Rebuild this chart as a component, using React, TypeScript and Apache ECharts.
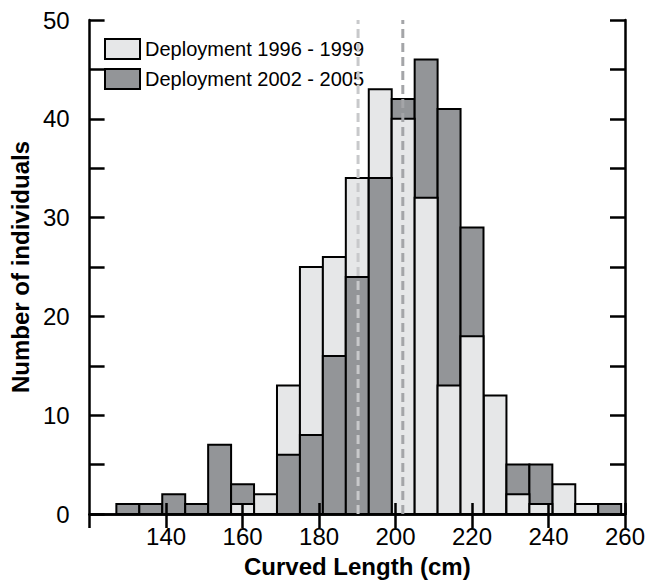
import React, { useEffect, useRef } from "react";
import * as echarts from "echarts";

// Histogram bins (cm): lower edges, width 6
const binStarts = [127, 133, 139, 145, 151, 157, 163, 169, 175, 181, 187, 193, 199, 205, 211, 217, 223, 229, 235, 241, 247, 253];
const binWidth = 6;
const light9699 = [0, 0, 0, 0, 0, 1, 2, 13, 25, 26, 34, 43, 40, 32, 13, 18, 12, 2, 1, 3, 1, 0];
const dark0205 = [1, 1, 2, 1, 7, 3, 0, 6, 8, 16, 24, 34, 42, 46, 41, 29, 0, 5, 5, 0, 0, 1];
const meanLengths = [190.2, 201.9];
const seriesNames = ["Deployment 1996 - 1999", "Deployment 2002 - 2005"];
const xTicks = { min: 120, max: 260, interval: 20 };
const yTicks = { min: 0, max: 50, interval: 10 };

const LIGHT = "#e6e7e8";
const DARK = "#939598";
const FONT = "'Liberation Sans', Arial, Helvetica, sans-serif";

function makeRender(color: string) {
  return (params: any, api: any) => {
    const s = api.value(0);
    const e = api.value(1);
    const v = api.value(2);
    const o = api.value(3);
    if (!v) return { type: "group", children: [] };
    const p0 = api.coord([s, v]);
    const p1 = api.coord([e, 0]);
    return {
      type: "rect",
      shape: { x: p0[0], y: p0[1], width: p1[0] - p0[0], height: p1[1] - p0[1] },
      style: { fill: color, stroke: "#000", lineWidth: 2 },
      z2: v > o ? 1 : 3,
    };
  };
}

export default function App() {
  const ref = useRef<HTMLDivElement>(null);
  useEffect(() => {
    document.body.style.margin = "0";
    const chart = echarts.init(ref.current!, null, { renderer: "svg" });
    const lightData = binStarts.map((b, i) => [b, b + binWidth, light9699[i], dark0205[i]]);
    const darkData = binStarts.map((b, i) => [b, b + binWidth, dark0205[i], light9699[i]]);
    const axisLine = { show: true, lineStyle: { color: "#000", width: 2.5 } };
    const tickStyle = { color: "#000", width: 2.5, opacity: 1 };
    const yCommon = {
      type: "value",
      min: yTicks.min,
      max: yTicks.max,
      interval: yTicks.interval,
      axisLine,
      axisTick: { show: true, inside: true, length: 15, lineStyle: tickStyle },
      minorTick: { show: true, splitNumber: 2, length: 15, lineStyle: tickStyle },
      splitLine: { show: false },
      minorSplitLine: { show: false },
      z: 10,
    };
    const xCommon = {
      type: "value",
      min: xTicks.min,
      max: xTicks.max,
      interval: xTicks.interval,
      axisLine,
      splitLine: { show: false },
      z: 10,
    };
    chart.setOption({
      animation: false,
      textStyle: { fontFamily: FONT },
      grid: { left: 87, right: 28, top: 20, bottom: 70, containLabel: false },
      legend: {
        data: seriesNames,
        orient: "vertical",
        left: 104,
        top: 38,
        padding: 0,
        itemWidth: 35,
        itemHeight: 20,
        itemGap: 8,
        icon: "rect",
        textStyle: { fontSize: 20, color: "#000", fontFamily: FONT },
        itemStyle: { borderColor: "#000", borderWidth: 2 },
      },
      xAxis: [
        {
          ...xCommon,
          position: "bottom",
          name: "Curved Length (cm)",
          nameLocation: "middle",
          nameGap: 40,
          nameTextStyle: { fontSize: 24, fontWeight: "bold", color: "#000", fontFamily: FONT },
          axisTick: { show: true, inside: true, length: 11, lineStyle: tickStyle },
          axisLabel: { show: true, fontSize: 24, color: "#000", margin: 10, showMinLabel: false, fontFamily: FONT },
        },
        {
          ...xCommon,
          position: "top",
          axisTick: { show: true, inside: true, length: 14, lineStyle: tickStyle },
          axisLabel: { show: false },
        },
      ],
      yAxis: [
        {
          ...yCommon,
          position: "left",
          name: "Number of individuals",
          nameLocation: "middle",
          nameGap: 44,
          nameTextStyle: { fontSize: 24, fontWeight: "bold", color: "#000", fontFamily: FONT },
          axisLabel: { show: true, fontSize: 24, color: "#000", margin: 20, fontFamily: FONT },
        },
        {
          ...yCommon,
          position: "right",
          axisLabel: { show: false },
        },
      ],
      series: [
        {
          name: seriesNames[0],
          type: "custom",
          renderItem: makeRender(LIGHT),
          itemStyle: { color: LIGHT, borderColor: "#000", borderWidth: 2 },
          encode: { x: [0, 1], y: 2 },
          data: lightData,
          z: 2,
        },
        {
          name: seriesNames[1],
          type: "custom",
          renderItem: makeRender(DARK),
          itemStyle: { color: DARK, borderColor: "#000", borderWidth: 2 },
          encode: { x: [0, 1], y: 2 },
          data: darkData,
          z: 2,
        },
        {
          name: "mean1",
          type: "line",
          data: [[meanLengths[0], yTicks.min], [meanLengths[0], yTicks.max]],
          showSymbol: false,
          symbol: "none",
          lineStyle: { color: "#c8c9cb", width: 3, type: [9, 5] },
          z: 12,
          silent: true,
        },
        {
          name: "mean2",
          type: "line",
          data: [[meanLengths[1], yTicks.min], [meanLengths[1], yTicks.max]],
          showSymbol: false,
          symbol: "none",
          lineStyle: { color: "#a4a5a8", width: 3, type: [9, 5] },
          z: 12,
          silent: true,
        },
      ],
    });
    return () => chart.dispose();
  }, []);
  return <div ref={ref} style={{ width: 653, height: 584 }} />;
}
